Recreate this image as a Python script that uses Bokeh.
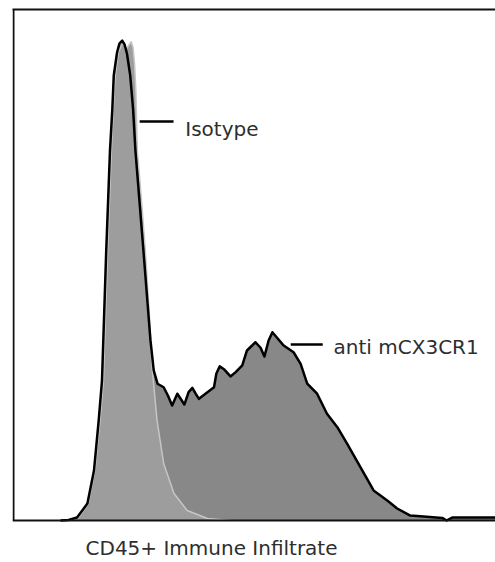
from bokeh.plotting import figure
from bokeh.models import Range1d, LinearAxis, FixedTicker, Label
from bokeh.embed import file_html
from bokeh.resources import INLINE

# CD45+ immune infiltrate, fluorescence channel (0-1024) vs event count
anti_x = [100, 117, 135, 157, 171, 181, 188, 197, 205, 210, 213, 220, 225, 231, 236, 241,
          248, 254, 259, 276, 291, 298, 306, 319, 328, 337, 348, 353, 363, 372, 380, 387,
          394, 412, 426, 431, 438, 448, 461, 472, 486, 496, 514, 525, 533, 542, 550, 560,
          574, 595, 610, 624, 645, 666, 688, 709, 737, 765, 794, 815, 843, 871, 911, 920,
          932, 1024]
anti_y = [0, 0.3, 1.5, 8.6, 25.4, 50.9, 71.2, 137.4, 188.3, 209.6, 226.4, 238.1, 242.7, 244.2, 242.2, 237.6,
          226.4, 209.6, 188.3, 137.4, 91.6, 76.3, 69.6, 67.8, 63.6, 58.5, 64.5, 62.7, 59.0, 65.3, 67.5, 64.5,
          61.9, 65.3, 67.8, 74.8, 78.4, 76.8, 73.3, 75.5, 78.9, 86.5, 90.7, 87.9, 83.4, 91.6, 95.8, 93.0,
          89.0, 85.6, 79.7, 69.6, 64.5, 54.3, 47.5, 39.0, 27.1, 15.3, 10.2, 6.1, 2.5, 2.0, 1.3, 0,
          1.5, 1.5]

iso_x = [118, 138, 159, 173, 184, 191, 200, 208, 212, 216, 223, 232, 240, 244, 250, 254,
         257, 260, 263, 272, 280, 288, 295, 305, 319, 341, 369, 412, 461]
iso_y = [0, 1.5, 8.6, 25.4, 50.9, 71.2, 137.4, 188.3, 209.6, 226.4, 238.1, 243.2, 240.0, 241.5, 243.7, 240.7,
         233.0, 218.8, 188.3, 162.8, 137.4, 106.8, 76.3, 50.9, 29.0, 13.7, 5.1, 1.0, 0]

series_names = ["Isotype", "anti mCX3CR1"]
x_title = "CD45+ Immune Infiltrate"

X_MAX = 1024
Y_MAX = 260

FONT = "DejaVu Sans"
TXT = "#2e2e2e"

p = figure(width=495, height=562, output_backend="svg", toolbar_location=None,
           x_range=Range1d(-2.12, X_MAX), y_range=Range1d(-21.37, Y_MAX),
           x_axis_location=None, y_axis_location=None,
           min_border_left=12, min_border_right=0, min_border_top=9, min_border_bottom=0)
p.grid.visible = False
p.outline_line_color = None
p.background_fill_color = "white"
p.border_fill_color = "white"

top_axis = LinearAxis()
top_axis.ticker = FixedTicker(ticks=[])
top_axis.major_tick_out = 0
top_axis.major_tick_in = 0
top_axis.minor_tick_out = 0
top_axis.minor_tick_in = 0
top_axis.major_label_standoff = 0
top_axis.axis_label_standoff = 0
top_axis.axis_line_color = "#111111"
top_axis.axis_line_width = 2
top_axis.major_label_text_font_size = "0px"
p.add_layout(top_axis, "above")

# anti mCX3CR1 fill
p.varea(x=anti_x, y1=0, y2=anti_y, fill_color="#888888")
# isotype fill + outline
p.varea(x=iso_x, y1=0, y2=iso_y, fill_color="#9d9d9d")
p.line(x=iso_x, y=iso_y, line_color="#c6c6c6", line_width=1.5)
# anti outline
p.line(x=anti_x, y=anti_y, line_color="black", line_width=2.5, line_join="round")

# frame: left and bottom borders (axes without ticks)
p.line(x=[0, 0], y=[0, Y_MAX], line_color="#111111", line_width=2)
p.line(x=[0, X_MAX], y=[0, 0], line_color="#111111", line_width=2, line_cap="square")

# leader lines
p.line(x=[268, 340], y=[203, 203], line_color="black", line_width=2.5)
p.line(x=[589, 657], y=[89.5, 89.5], line_color="black", line_width=2.5)

p.add_layout(Label(x=365, y=199.2, text=series_names[0], text_font=FONT, text_font_size="20px",
                   text_color=TXT, text_baseline="alphabetic"))
p.add_layout(Label(x=680, y=88.1, text=series_names[1], text_font=FONT, text_font_size="20px",
                   text_color=TXT, text_baseline="alphabetic"))
p.add_layout(Label(x=153, y=-14.2, text=x_title, text_font=FONT, text_font_size="20px",
                   text_color=TXT, text_baseline="alphabetic"))

open("out.html", "w").write(file_html(p, INLINE))
